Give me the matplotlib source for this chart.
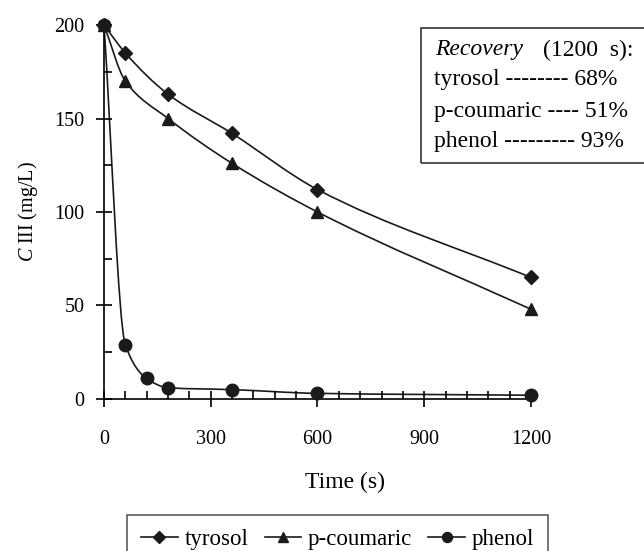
import matplotlib
matplotlib.use("Agg")
import matplotlib.pyplot as plt
import numpy as np
from matplotlib.path import Path
from matplotlib.patches import PathPatch, Rectangle
from matplotlib.lines import Line2D

plt.rcParams['font.family'] = ['Liberation Serif', 'DejaVu Serif']
plt.rcParams['mathtext.fontset'] = 'custom'
plt.rcParams['mathtext.it'] = 'Liberation Serif:italic'
plt.rcParams['mathtext.rm'] = 'Liberation Serif'

# data
t_tyr = [0, 60, 180, 360, 600, 1200]
c_tyr = [200, 185, 163, 142, 112, 65]
t_cou = [0, 60, 180, 360, 600, 1200]
c_cou = [200, 170, 150, 126, 100, 48]
t_phe = [0, 60, 120, 180, 360, 600, 1200]
c_phe = [200, 29, 11, 6, 5, 3, 2]

names = ['tyrosol', 'p-coumaric', 'phenol']
markers = ['D', '^', 'o']
msizes = [7.5, 9, 9]
recovery_lines = ['tyrosol -------- 68%', 'p-coumaric ---- 51%', 'phenol --------- 93%']


def smooth_path(x, y):
    # monotone cubic (Fritsch-Carlson) tangents -> bezier segments
    x = np.asarray(x, float)
    y = np.asarray(y, float)
    h = np.diff(x)
    d = np.diff(y) / h
    m = np.zeros_like(y)
    m[0], m[-1] = d[0], d[-1]
    for i in range(1, len(x) - 1):
        if d[i - 1] * d[i] <= 0:
            m[i] = 0
        else:
            w1 = 2 * h[i] + h[i - 1]
            w2 = h[i] + 2 * h[i - 1]
            m[i] = (w1 + w2) / (w1 / d[i - 1] + w2 / d[i])
    verts = [(x[0], y[0])]
    codes = [Path.MOVETO]
    for i in range(len(x) - 1):
        verts += [(x[i] + h[i] / 3, y[i] + m[i] * h[i] / 3),
                  (x[i + 1] - h[i] / 3, y[i + 1] - m[i + 1] * h[i] / 3),
                  (x[i + 1], y[i + 1])]
        codes += [Path.CURVE4] * 3
    return Path(verts, codes)


fig = plt.figure(figsize=(6.44, 5.51), dpi=100)
ax = fig.add_axes([0.1615, 0.2759, 0.663, 0.6787])

for (tx, cy), mk, ms in zip([(t_tyr, c_tyr), (t_cou, c_cou), (t_phe, c_phe)], markers, msizes):
    ax.add_patch(PathPatch(smooth_path(tx, cy), fill=False, lw=1.2, ec='#1a1a1a', clip_on=False))
    ax.plot(tx, cy, ls='none', marker=mk, ms=ms, color='#1a1a1a', clip_on=False, zorder=3)

ax.set_xlim(0, 1200)
ax.set_ylim(0, 200)
ax.spines['top'].set_visible(False)
ax.spines['right'].set_visible(False)
for s in ['left', 'bottom']:
    ax.spines[s].set_linewidth(1.2)
ax.set_xticks([0, 300, 600, 900, 1200])
ax.set_xticks(np.arange(0, 1201, 60), minor=True)
ax.set_yticks([0, 50, 100, 150, 200])
ax.set_yticks([25, 75, 125, 175], minor=True)
ax.tick_params(which='major', direction='inout', length=12, width=1.2, labelsize=14.5)
ax.tick_params(which='minor', direction='in', length=6, width=1.2)
ax.tick_params(axis='x', pad=16)
ax.tick_params(axis='y', pad=8)

fig.text(345 / 644, 1 - 482 / 551, 'Time (s)', fontsize=17, ha='center', va='center')
fig.text(28 / 644, 1 - 212 / 551, r'$C$ III (mg/L)', fontsize=14.5, rotation=90,
         ha='center', va='center')

# recovery box
fig.patches.append(Rectangle((421 / 644, 1 - 163 / 551), 240 / 644, 135 / 551,
                             transform=fig.transFigure, fill=False, lw=1.2, ec='#333333'))
fig.text(435 / 644, 1 - 50 / 551, 'Recovery', style='italic', fontsize=17, va='center')
fig.text(633 / 644, 1 - 50 / 551, '(1200  s):', fontsize=17, va='center', ha='right')
for i, line in enumerate(recovery_lines):
    fig.text(434 / 644, 1 - (80 + 31 * i) / 551, line, fontsize=17, va='center')

# bottom legend
handles = [Line2D([], [], color='#1a1a1a', marker=mk, ms=ms * 0.8, lw=1.2)
           for mk, ms in zip(markers, msizes)]
leg = fig.legend(handles, names, loc='upper right', bbox_to_anchor=(548 / 644, 1 - 515 / 551),
                 ncol=3, frameon=True, fancybox=False, edgecolor='#333333', fontsize=16.5,
                 handlelength=1.6, handletextpad=0.3, columnspacing=0.7, borderpad=0.6,
                 borderaxespad=0)
leg.get_frame().set_linewidth(1.2)

fig.savefig('out.png', dpi=100)
